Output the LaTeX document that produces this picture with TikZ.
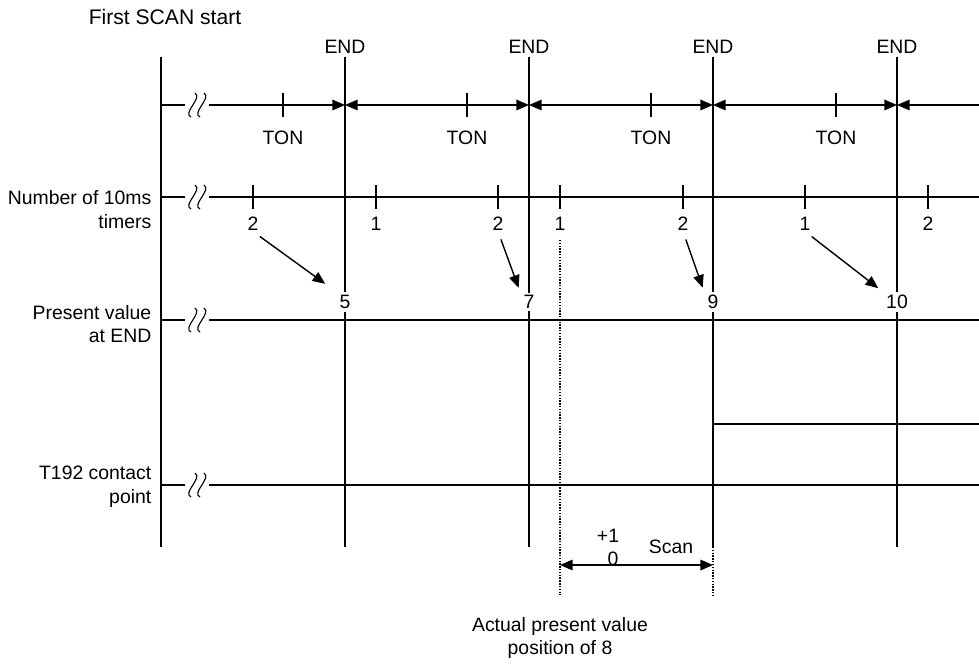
\documentclass[tikz,border=0pt]{standalone}
\usepackage{fontspec}
\setmainfont{Liberation Sans}
\usetikzlibrary{arrows.meta}

\begin{document}
\begin{tikzpicture}[x=0.025cm, y=-0.025cm, line width=1pt,
    txt/.style={font=\fontsize{13.8}{16.7}\selectfont, inner sep=0pt},
    lbl/.style={txt, align=right, anchor=east},
    val/.style={txt, fill=white, inner sep=2pt},
    tip/.style={-{Triangle[length=9pt,width=7.5pt]}},
    both/.style={{Triangle[length=9pt,width=7.5pt]}-{Triangle[length=9pt,width=7.5pt]}}]
    \useasboundingbox (0,0) rectangle (979,664);
    \node[txt, font=\fontsize{15}{18}\selectfont] (first) at (165,17) {First SCAN start};
    \node[lbl] (lnum) at (152,209.5) {Number of 10ms\\timers};
    \node[lbl] (lpv) at (152,324) {Present value\\at END};
    \node[lbl] (lcon) at (152,486.5) {T192 contact\\point};
    \draw (161,57) -- (161,547);
    \foreach \x [count=\i] in {345,529,713,897} {
        \node[txt] (end\i) at (\x,47) {END};
        \draw (\x,57) -- (\x,547);
    }
    \draw (161,105) -- (185,105);
    \draw[tip] (209,105) -- (345,105);
    \draw[both] (345,105) -- (529,105);
    \draw[both] (529,105) -- (713,105);
    \draw[both] (713,105) -- (897,105);
    \draw[tip] (979,105) -- (897,105);
    \foreach \x [count=\i] in {283,467,651,836} {
        \draw (\x,93) -- (\x,117);
        \node[txt] (ton\i) at (\x,138) {TON};
    }
    \draw (161,197) -- (185,197) (209,197) -- (979,197);
    \foreach \x/\n [count=\i] in {253/2,376/1,498/2,560/1,683/2,805/1,928/2} {
        \draw (\x,185) -- (\x,209);
        \node[txt] (c\i) at (\x,224) {\n};
    }
    \draw (161,320) -- (185,320) (209,320) -- (979,320);
    \draw (713,424) -- (979,424);
    \draw (161,485) -- (185,485) (209,485) -- (979,485);
    \foreach \y in {105,197,320,485}
        \foreach \d in {0,9}
            \draw[line width=0.8pt] (191+\d,\y+12) .. controls (182+\d,\y+8) and (203+\d,\y-7) .. (195+\d,\y-12);
    \node[val] (v5) at (345,302) {5};
    \node[val] (v7) at (529,302) {7};
    \node[val] (v9) at (713,302) {9};
    \node[val] (v10) at (897,302) {10};
    \draw[tip, shorten <=6pt, shorten >=9.5pt] (c1.south) -- (v5.north west);
    \draw[tip, shorten <=6pt, shorten >=3pt] (c3.south) -- (v7.north west);
    \draw[tip, shorten <=6pt, shorten >=3pt] (c5.south) -- (v9.north west);
    \draw[tip, shorten <=6pt, shorten >=4pt] (c6.south) -- (v10.north west);
    \draw[densely dotted] (560,240) -- (560,595);
    \draw[densely dotted] (713,547) -- (713,595);
    \draw[both] (560,565) -- (713,565);
    \node[txt] (plus) at (608,536) {+1};
    \node[txt] (zero) at (613,559) {0};
    \node[txt] (scan) at (671,547) {Scan};
    \node[txt, align=center] (actual) at (560,638) {Actual present value\\position of 8};
\end{tikzpicture}
\end{document}
